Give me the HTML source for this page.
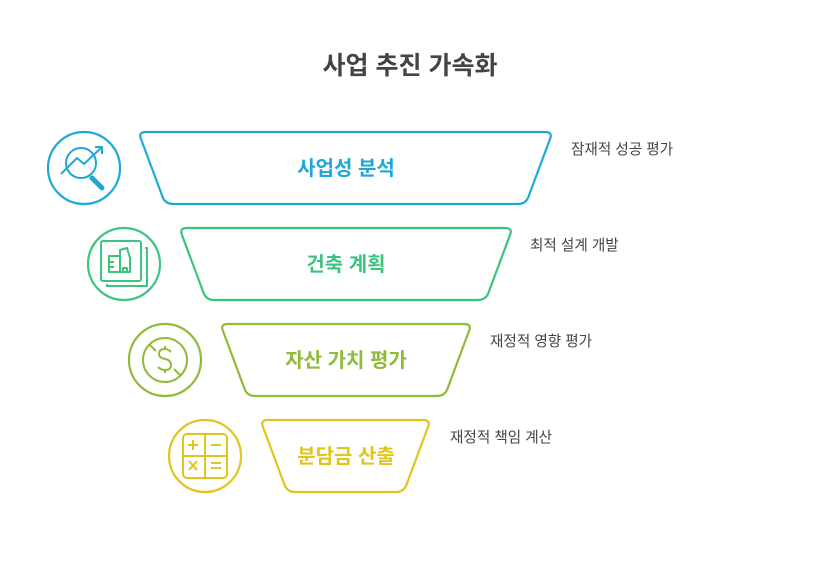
<!DOCTYPE html>
<html><head><meta charset="utf-8"><style>
body{margin:0;background:#fff;}
svg{display:block}
text{font-family:"Liberation Sans","Noto Sans CJK KR",sans-serif}
</style></head><body>
<svg width="821" height="564" viewBox="0 0 821 564">
<text x="410" y="74" text-anchor="middle" font-size="25" font-weight="bold" fill="#444">사업 추진 가속화</text>
<g fill="none" stroke-width="2.2" stroke-linejoin="round">
<path d="M146,132 L545,132 Q553,132 550,139 L528,198 Q525,204 518,204 L173,204 Q166,204 163,198 L141,139 Q138,132 146,132Z" stroke="#1ea8d8"/>
<path d="M187,228 L505,228 Q513,228 510,235 L488,294 Q485,300 478,300 L214,300 Q207,300 204,294 L182,235 Q179,228 187,228Z" stroke="#3cc47f"/>
<path d="M228,324 L464,324 Q472,324 469,331 L447,390 Q444,396 437,396 L255,396 Q248,396 245,390 L223,331 Q220,324 228,324Z" stroke="#8fbb3a"/>
<path d="M268,420 L423,420 Q431,420 428,427 L406,486 Q403,492 396,492 L295,492 Q288,492 285,486 L263,427 Q260,420 268,420Z" stroke="#e1c41c"/>
<circle cx="84" cy="168" r="36" stroke="#1ea8d8"/>
<circle cx="124" cy="264" r="36" stroke="#3cc47f"/>
<circle cx="165" cy="360" r="36" stroke="#8fbb3a"/>
<circle cx="205" cy="456" r="36" stroke="#e1c41c"/>
<g stroke="#1ea8d8" stroke-width="2">
<circle cx="81" cy="163" r="15"/>
<path d="M61,174 L77,158 L84,164 L102,147 M95,147 L102,147 L102,154"/>
<path d="M92,178 L102,188" stroke-width="5" stroke-linecap="round"/>
</g>
<g stroke="#3cc47f" stroke-width="2">
<rect x="101" y="241" width="40" height="40" rx="2"/>
<path d="M145,248 L147,248 L147,286 L107,286 L107,284"/>
<path d="M109,256 L120,256 L120,272 L109,272Z M120,272 L120,250 L127,248 L130,258 L130,272 Z M123,272 L123,268 L127,268 L127,272 M110,262 L114,262 M110,267 L114,267"/>
</g>
<g stroke="#8fbb3a" stroke-width="2">
<circle cx="165" cy="360" r="22"/>
<path d="M150,345 L156,351 M174,369 L180,375"/>
<path d="M171,352 Q168,349 165,349 Q159,349 159,354 Q159,358 165,359 Q171,360 171,365 Q171,370 165,370 Q161,370 158,367 M165,346 L165,349 M165,370 L165,373"/>
</g>
<g stroke="#e1c41c" stroke-width="2">
<rect x="183" y="434" width="44" height="44" rx="4"/>
<path d="M205,434 L205,478 M183,456 L227,456 M188,445 L198,445 M193,440 L193,450 M211,445 L221,445 M189,461 L197,470 M197,461 L189,470 M211,463 L221,463 M211,468 L221,468"/>
</g>
</g>
<g font-size="20" font-weight="bold" text-anchor="middle">
<text x="346" y="175" fill="#1ea8d8">사업성 분석</text>
<text x="346" y="271" fill="#3cc47f">건축 계획</text>
<text x="346" y="367" fill="#8fbb3a">자산 가치 평가</text>
<text x="346" y="463" fill="#e1c41c">분담금 산출</text>
</g>
<g font-size="14.6" fill="#444">
<text x="571" y="154">잠재적 성공 평가</text>
<text x="530" y="250">최적 설계 개발</text>
<text x="490" y="346">재정적 영향 평가</text>
<text x="450" y="442">재정적 책임 계산</text>
</g>
</svg>
</body></html>
